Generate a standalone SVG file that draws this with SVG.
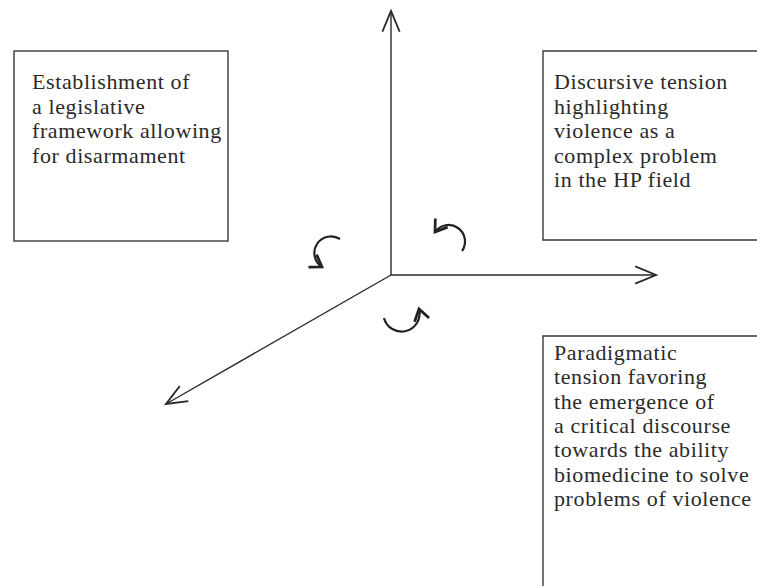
<svg xmlns="http://www.w3.org/2000/svg" width="757" height="586" viewBox="0 0 757 586">
  <style>
    .box { fill: none; stroke: #3a3a3a; stroke-width: 1.4; }
    .axis { fill: none; stroke: #2a2a2a; stroke-width: 1.4; }
    .curl { fill: none; stroke: #222; stroke-width: 2.2; }
    .lbl { font-family: "Liberation Serif", "Times New Roman", serif; font-size: 22px; fill: #2a2a2a; letter-spacing: 0.6px; }
  </style>
  <defs>
    <marker id="axhead" markerUnits="userSpaceOnUse" markerWidth="30" markerHeight="30" viewBox="-22 -12 26 24" refX="0" refY="0" orient="auto">
      <path d="M -18 -7.5 L 0 0 L -18 7.5" fill="none" stroke="#2a2a2a" stroke-width="1.6"/>
    </marker>
    <marker id="curlhead" markerUnits="userSpaceOnUse" markerWidth="20" markerHeight="20" viewBox="-12 -8 14 16" refX="0" refY="0" orient="auto">
      <path d="M -9 -6 L 0 0 L -9 6" fill="none" stroke="#222" stroke-width="2.2"/>
    </marker>
  </defs>
  <rect width="757" height="586" fill="#ffffff"/>

  <g id="connectors">
    <line class="axis" x1="391" y1="275" x2="391" y2="11" marker-end="url(#axhead)"/>
    <line class="axis" x1="391" y1="275" x2="656" y2="275" marker-end="url(#axhead)"/>
    <line class="axis" x1="391" y1="275" x2="166" y2="404" marker-end="url(#axhead)"/>
    <path class="curl" d="M 340 239 A 16 16 0 1 0 322 267" marker-end="url(#curlhead)"/>
    <path class="curl" d="M 462 251 A 16 16 0 1 0 435 232" marker-end="url(#curlhead)"/>
    <path class="curl" d="M 384 318 A 17 17 0 1 0 419 309" marker-end="url(#curlhead)"/>
  </g>

  <g id="node-legislative">
    <rect class="box" x="14" y="51" width="214" height="190"/>
    <text class="lbl" x="32" y="89">Establishment of</text>
    <text class="lbl" x="32" y="113.5">a legislative</text>
    <text class="lbl" x="32" y="138">framework allowing</text>
    <text class="lbl" x="32" y="162.5">for disarmament</text>
  </g>

  <g id="node-discursive">
    <path class="box" d="M 758 51 H 543 V 240 H 758"/>
    <text class="lbl" x="554" y="89">Discursive tension</text>
    <text class="lbl" x="554" y="113.5">highlighting</text>
    <text class="lbl" x="554" y="138">violence as a</text>
    <text class="lbl" x="554" y="162.5">complex problem</text>
    <text class="lbl" x="554" y="187">in the HP field</text>
  </g>

  <g id="node-paradigmatic">
    <path class="box" d="M 758 336 H 543 V 587"/>
    <text class="lbl" x="554" y="360">Paradigmatic</text>
    <text class="lbl" x="554" y="384.3">tension favoring</text>
    <text class="lbl" x="554" y="408.6">the emergence of</text>
    <text class="lbl" x="554" y="432.9">a critical discourse</text>
    <text class="lbl" x="554" y="457.2">towards the ability</text>
    <text class="lbl" x="554" y="481.5">biomedicine to solve</text>
    <text class="lbl" x="554" y="505.8">problems of violence</text>
  </g>
</svg>
